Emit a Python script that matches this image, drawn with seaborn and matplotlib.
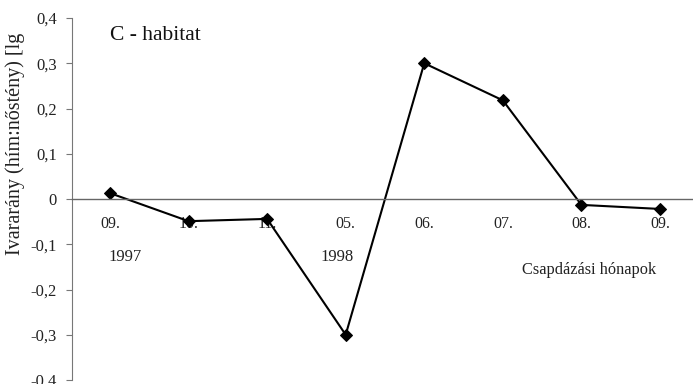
import matplotlib
matplotlib.use("Agg")
import matplotlib.pyplot as plt
import seaborn as sns
import pandas as pd
from matplotlib.ticker import FixedLocator, FuncFormatter

# Trapping months and log sex ratio (male:female)
months = ["09.", "10.", "11.", "05.", "06.", "07.", "08.", "09."]
sex_ratio_lg = [0.013, -0.049, -0.044, -0.300, 0.300, 0.218, -0.013, -0.022]
years = ["1997", "1998"]
year_pos = [0.19, 2.89]
y_ticks = [-0.4, -0.3, -0.2, -0.1, 0.0, 0.1, 0.2, 0.3, 0.4]

df = pd.DataFrame({"pos": range(len(months)), "ratio": sex_ratio_lg})

sns.set_style("white")
plt.rcParams["font.family"] = ["Liberation Serif", "DejaVu Serif"]

fig = plt.figure(figsize=(6.93, 3.84), dpi=100)
ax = fig.add_axes([72 / 693, 4 / 384, 621 / 693, 362 / 384])

sns.lineplot(data=df, x="pos", y="ratio", ax=ax, color="black", linewidth=1.5,
             marker="D", markersize=6, markeredgecolor="black", markerfacecolor="black")

ax.set_xlim(-0.483, 7.42)
ax.set_ylim(-0.4, 0.4)

# Horizontal axis runs through zero
for s in ["top", "right"]:
    ax.spines[s].set_visible(False)
ax.spines["bottom"].set_position(("data", 0))
ax.spines["bottom"].set_color("#666666")
ax.spines["bottom"].set_linewidth(1.0)
ax.spines["left"].set_color("#777777")
ax.spines["left"].set_linewidth(0.8)

ax.xaxis.set_major_locator(FixedLocator(range(len(months))))
ax.set_xticklabels(months)
ax.xaxis.set_minor_locator(FixedLocator([i + 0.5 for i in range(len(months) - 1)]))
ax.tick_params(axis="x", which="major", length=0, pad=12, labelsize=11.5, labelcolor="#222222")
ax.tick_params(axis="x", which="minor", length=5, direction="inout", color="#777777", width=0.8)

ax.set_yticks(y_ticks)
ax.yaxis.set_major_formatter(FuncFormatter(
    lambda v, _: "0" if abs(v) < 1e-9 else f"{v:.1f}".replace(".", ",")))
ax.tick_params(axis="y", which="major", left=True, length=4, direction="out", width=0.8,
               color="#777777", labelsize=12, labelcolor="#222222", pad=7)

ax.set_xlabel("")
ax.set_ylabel("")

for yr, xp in zip(years, year_pos):
    ax.text(xp, -0.128, yr, ha="center", va="center", fontsize=12, color="#222222")

ax.text(6.1, -0.156, "Csapdázási hónapok", ha="center", va="center", fontsize=11.8, color="#222222")
ax.text(0.0, 0.362, "C - habitat", ha="left", va="center", fontsize=15.5, color="#111111")

fig.text(15 / 693, 1 - 144 / 384, "Ivararány (hím:nőstény) [lg", rotation=90,
         ha="center", va="center", fontsize=14.5, color="#222222")

fig.savefig("out.png", dpi=100)
